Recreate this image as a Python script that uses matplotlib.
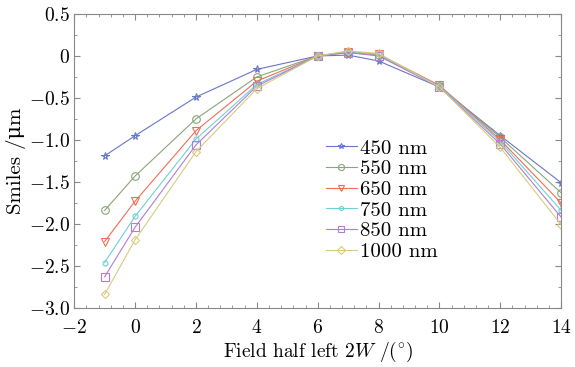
import numpy as np
import matplotlib
matplotlib.use('Agg')
import matplotlib.pyplot as plt
from matplotlib.ticker import MultipleLocator, FuncFormatter

plt.rcParams['font.family'] = ['cmr10', 'DejaVu Serif']
plt.rcParams['mathtext.fontset'] = 'cm'
plt.rcParams['axes.formatter.use_mathtext'] = True

# field angle (deg)
field = [-1, 0, 2, 4, 6, 7, 8, 10, 12, 14]

# smile (um) per wavelength
smile_450 = [-1.19, -0.95, -0.49, -0.16, 0.0, 0.01, -0.06, -0.37, -0.95, -1.51]
smile_550 = [-1.84, -1.43, -0.75, -0.25, 0.0, 0.04, 0.01, -0.36, -0.97, -1.63]
smile_650 = [-2.21, -1.73, -0.89, -0.30, 0.0, 0.05, 0.02, -0.35, -1.00, -1.75]
smile_750 = [-2.46, -1.91, -0.99, -0.34, 0.0, 0.05, 0.02, -0.36, -1.02, -1.84]
smile_850 = [-2.63, -2.04, -1.06, -0.36, 0.0, 0.04, 0.00, -0.37, -1.05, -1.92]
smile_1000 = [-2.84, -2.19, -1.14, -0.39, 0.0, 0.06, 0.03, -0.37, -1.09, -2.01]

labels = ['450 nm', '550 nm', '650 nm', '750 nm', '850 nm', '1000 nm']
series = [smile_450, smile_550, smile_650, smile_750, smile_850, smile_1000]
colors = ['#6877c6', '#87a67a', '#f26d55', '#6fd0d6', '#b07fd0', '#d6cb80']
markers = ['*', 'o', 'v', 'h', 's', 'D']
msizes = [5.5, 5.5, 6, 4, 5.5, 4.5]

fig = plt.figure(figsize=(5.75, 3.67), dpi=100)
ax = fig.add_axes([0.129, 0.161, 0.847, 0.801])

for y, lab, c, m, ms in zip(series, labels, colors, markers, msizes):
    ax.plot(field, y, color=c, marker=m, markersize=ms, markerfacecolor='none',
            markeredgecolor=c, linewidth=0.8, markeredgewidth=0.8, label=lab)

ax.set_xlim(-2, 14)
ax.set_ylim(-3.0, 0.5)
ax.xaxis.set_major_locator(MultipleLocator(2))
ax.xaxis.set_minor_locator(MultipleLocator(0.4))
ax.yaxis.set_major_locator(MultipleLocator(0.5))
ax.yaxis.set_minor_locator(MultipleLocator(0.25))


def yfmt(v, pos):
    if abs(v) < 1e-9:
        return '$0$'
    return '$%.1f$' % v


def xfmt(v, pos):
    return '$%d$' % round(v)


ax.yaxis.set_major_formatter(FuncFormatter(yfmt))
ax.xaxis.set_major_formatter(FuncFormatter(xfmt))
ax.tick_params(which='both', direction='in', top=True, right=True, color='#888888', labelsize=14)
ax.tick_params(which='major', length=4)
ax.tick_params(which='minor', length=2)
ax.tick_params(axis='x', which='major', pad=8)
ax.tick_params(axis='y', which='major', pad=3)
for s in ax.spines.values():
    s.set_color('#888888')

ax.set_xlabel(r'Field half left 2$W$ /$(^{\circ})$', fontsize=14, labelpad=2)
ax.set_ylabel('Smiles /μm', fontsize=15, labelpad=2)

ax.legend(loc='upper left', bbox_to_anchor=(0.495, 0.61), frameon=False, fontsize=15,
          handlelength=1.5, handletextpad=0.15, labelspacing=0.1, borderpad=0,
          markerscale=0.8)

fig.savefig('out.png', dpi=100)
